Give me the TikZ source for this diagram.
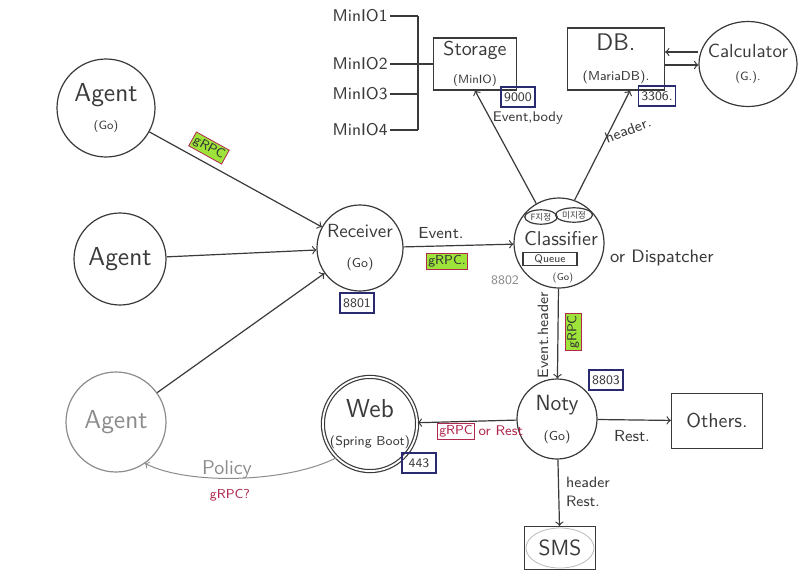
\documentclass[tikz,border=0pt]{standalone}
\usepackage{fontspec}
\newfontfamily\krfont{Noto Sans CJK KR}
\usepackage{tikz}
\usetikzlibrary{shapes.geometric, arrows, positioning, fit, backgrounds}

\definecolor{pencil}{HTML}{3A3A3A}
\definecolor{faint}{HTML}{8C8C8C}
\definecolor{pen}{HTML}{B0284E}
\definecolor{hilite}{HTML}{9EE33A}
\definecolor{ink}{HTML}{2A2A6E}

\newcommand{\fsz}[1]{\fontsize{#1}{#1}\selectfont}

\tikzset{
    base/.style={draw=pencil, line width=0.6pt, text=pencil, font=\sffamily},
    svc/.style={base, circle, inner sep=0pt, align=center},
    box/.style={base, rectangle, inner sep=0pt, align=center},
    tag/.style={base, ellipse, inner sep=0.6pt, font=\krfont\fsz{4.3}},
    port/.style={draw=ink, line width=0.7pt, text=pencil, font=\sffamily\fsz{6.5},
        inner sep=1.5pt, minimum width=17pt, minimum height=10pt},
    grpc/.style={draw=pen, fill=hilite, text=black!80, font=\sffamily\fsz{6.5}, inner sep=1pt},
    lbl/.style={text=pencil, font=\sffamily\fsz{7.5}, inner sep=1pt},
    wire/.style={draw=pencil, line width=0.6pt},
}

\begin{document}
\begin{tikzpicture}[x=0.5pt, y=-0.5pt, >=to]
    \fill[white] (0,0) rectangle (800,579);
    \useasboundingbox (0,0) rectangle (800,579);

    % Agents
    \node[svc, minimum size=49pt] (agent1) at (106,108) {{\fsz{13}Agent}\\[2pt]{\fsz{6}(Go)}};
    \node[svc, minimum size=46pt] (agent2) at (120,259) {\fsz{13}Agent};
    \node[svc, draw=faint, text=faint, minimum size=50pt] (agent3) at (116,422) {\fsz{13}Agent};

    % Receiver
    \node[svc, minimum size=43pt] (rcv) at (360,248) {{\fsz{9.5}Receiver}\\[3pt]{\fsz{6.5}(Go)}};

    % Classifier with its inner parts
    \node[svc, minimum size=45pt] (cls) at (559,243) {};
    \node[tag] (tagF) at (541,217) {F지정};
    \node[tag] (tagM) at (574,215) {미지정};
    \node[lbl, font=\sffamily\fsz{10}] (clsname) at (561,239) {Classifier};
    \node[box, minimum width=27pt, minimum height=6.5pt, font=\sffamily\fsz{5.5}] (queue) at (550,259) {Queue};
    \node[lbl, font=\sffamily\fsz{5}] (clsgo) at (563,278) {(Go)};
    \node[lbl, text=faint, font=\sffamily\fsz{6.5}] (p8802) at (505,280) {8802};
    \node[lbl, font=\sffamily\fsz{9}] (disp) at (662,258) {or Dispatcher};

    % Storage and MinIO nodes
    \node[box, minimum width=41.5pt, minimum height=26pt] (store) at (475,64) {{\fsz{10}Storage}\\[2pt]{\fsz{6}(MinIO)}};
    \foreach \i/\y in {1/16, 2/64, 3/94, 4/130} {
        \node[lbl, font=\sffamily\fsz{8.5}, anchor=east] (minio\i) at (390,\y) {MinIO\i};
    }
    \coordinate (bus) at (418,0);
    \foreach \i in {1,3,4} {
        \draw[wire] (minio\i.east) -- (minio\i.east -| bus);
    }
    \draw[wire] (minio1.east -| bus) -- (minio4.east -| bus);
    \draw[wire] (minio2.east) -- (minio2.east -| store.west);

    % DB and Calculator
    \node[box, minimum width=48.5pt, minimum height=31pt] (db) at (616,59) {{\fsz{12}DB.}\\[3pt]{\fsz{6.5}(MariaDB).}};
    \node[base, ellipse, minimum width=49pt, minimum height=42.5pt] (calc) at (748,64) {};
    \node[lbl, align=center] (calctxt) at (calc) {{\fsz{9.5}Calculator}\\[4pt]{\fsz{6}(G.).}};

    % Noty, Web, Others, SMS
    \node[svc, minimum size=40pt] (noty) at (557,419) {{\fsz{11}Noty}\\[3pt]{\fsz{6.5}(Go)}};
    \node[svc, double, double distance=0.9pt, minimum size=47pt] (web) at (370,424) {{\fsz{13}Web}\\[2pt]{\fsz{6.5}(Spring Boot)}};
    \node[box, minimum width=45.5pt, minimum height=27.5pt] (others) at (717,421) {\fsz{10}Others.};
    \node[box, minimum width=35.5pt, minimum height=21.5pt] (sms) at (560,548) {\fsz{11}SMS};
    \draw[faint!60, line width=0.4pt] (sms.center) ellipse [x radius=17pt, y radius=10pt];

    % Ports
    \foreach \nm/\x/\y/\txt in {8801/357/303/8801, 9000/518/97/9000, 3306/657/96/3306., 8803/606/380/8803, 443/419/463/443} {
        \node[port] (p\nm) at (\x,\y) {\txt};
    }

    % Connectors
    \draw[wire, ->] (agent1) -- (rcv);
    \draw[wire, ->] (agent2) -- (rcv);
    \draw[wire, ->] (agent3) -- (rcv);
    \draw[wire, ->] (rcv) -- (cls);
    \draw[wire, ->] (cls.120) -- (store.south);
    \draw[wire, ->] (cls.70) -- ([xshift=7pt]db.south);
    \draw[wire, ->] ([yshift=6pt]calc.west) -- ([yshift=6pt]calc.west -| db.east);
    \draw[wire, ->] ([yshift=-0.5pt]calc.west -| db.east) -- ([yshift=-0.5pt]calc.west);
    \draw[wire, ->] (cls) -- (noty);
    \draw[wire, ->] (noty) -- (web);
    \draw[wire, ->] (noty) -- (others);
    \draw[wire, ->] (noty) -- (sms);
    \draw[faint, line width=0.5pt, ->] (web.225) .. controls (290,482) and (190,486) .. (agent3.-55);

    % Connector labels
    \node[grpc, rotate=-29] (g1) at (209,148) {gRPC};
    \node[lbl, font=\sffamily\fsz{8}] (evt1) at (441,233) {Event.};
    \node[grpc] (g2) at (447,261) {gRPC.};
    \node[lbl, font=\sffamily\fsz{7}] (evbody) at (528,118) {Event,body};
    \node[lbl, rotate=21] (hdr1) at (628,130) {header.};
    \node[lbl, rotate=90] (evhdr) at (543,335) {Event.header};
    \node[grpc, rotate=90] (g3) at (573,332) {gRPC};
    \node[grpc, fill=none, text=pen] (g4) at (456,431) {gRPC};
    \node[lbl, text=pen, font=\sffamily\fsz{7}, right=0.5pt of g4] (orrest) {or Rest};
    \node[lbl, font=\sffamily\fsz{8}] (rest1) at (632,436) {Rest.};
    \node[lbl, align=left] (hdr2) at (588,492) {header\\[2pt]Rest.};
    \node[lbl, text=faint, font=\sffamily\fsz{10}] (policy) at (227,470) {Policy};
    \node[lbl, text=pen, font=\sffamily\fsz{6.5}] (g5) at (230,495) {gRPC?};
\end{tikzpicture}
\end{document}
